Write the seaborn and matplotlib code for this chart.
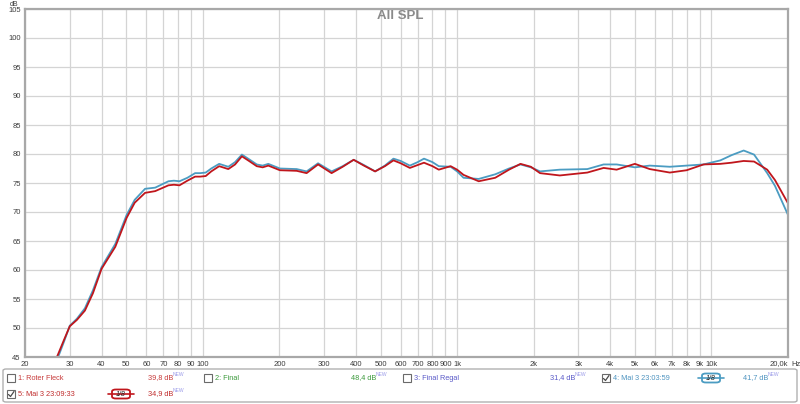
import numpy as np
import pandas as pd
import matplotlib
matplotlib.use("Agg")
import matplotlib.pyplot as plt
import seaborn as sns
from matplotlib.patches import Rectangle, FancyBboxPatch
from matplotlib.lines import Line2D

# frequencies (Hz) and SPL (dB)
freq = [25.5, 27, 28.5, 30, 32, 34.4, 37, 40, 45.3, 50.2, 54, 59.3, 65, 73.3, 77, 81, 87,
        93.3, 97.6, 102.7, 108, 116, 126, 134, 142.5, 152, 163, 172, 181, 201, 234, 256,
        284, 321, 355, 392, 430, 476, 520, 562, 600, 652, 700, 741, 800, 847, 943, 1000,
        1060, 1216, 1412, 1600, 1775, 1950, 2119, 2533, 3251, 3768, 4239, 5000, 5720,
        6860, 7988, 9311, 10840, 12000, 13390, 14710, 16570, 17780, 20000]
spl_mai4 = [42.6, 45.0, 47.7, 50.4, 51.6, 53.4, 56.5, 60.5, 64.5, 69.5, 72.1, 74.0, 74.2,
            75.3, 75.4, 75.3, 75.9, 76.7, 76.7, 76.8, 77.5, 78.3, 77.8, 78.6, 79.9, 79.1,
            78.2, 78.0, 78.3, 77.5, 77.4, 77.0, 78.4, 77.0, 77.9, 79.0, 78.1, 77.0, 78.0,
            79.2, 78.8, 78.0, 78.6, 79.2, 78.6, 77.9, 77.8, 77.0, 75.9, 75.7, 76.5, 77.5,
            78.2, 77.7, 77.0, 77.3, 77.4, 78.2, 78.2, 77.7, 78.0, 77.8, 78.0, 78.2, 78.9,
            79.8, 80.6, 79.9, 76.7, 74.5, 69.5]
spl_mai5 = [43.0, 45.5, 48.0, 50.3, 51.4, 53.0, 56.0, 60.2, 64.0, 69.0, 71.6, 73.3, 73.6,
            74.6, 74.7, 74.6, 75.4, 76.1, 76.1, 76.2, 77.0, 77.9, 77.4, 78.2, 79.6, 78.8,
            77.9, 77.7, 78.0, 77.2, 77.1, 76.7, 78.2, 76.7, 77.8, 79.0, 78.0, 77.0, 77.9,
            78.9, 78.4, 77.6, 78.1, 78.5, 77.9, 77.3, 77.9, 77.3, 76.4, 75.3, 75.9, 77.3,
            78.3, 77.8, 76.7, 76.3, 76.8, 77.6, 77.3, 78.3, 77.4, 76.8, 77.2, 78.2, 78.3,
            78.5, 78.8, 78.7, 77.3, 75.5, 71.5]

xtick_vals = [20, 30, 40, 50, 60, 70, 80, 90, 100, 200, 300, 400, 500, 600, 700, 800, 900,
              1000, 2000, 3000, 4000, 5000, 6000, 7000, 8000, 9000, 10000, 20000]
xtick_labels = ["20", "30", "40", "50", "60", "70", "80", "90", "100", "200", "300", "400",
                "500", "600", "700", "800", "900", "1k", "2k", "3k", "4k", "5k", "6k", "7k",
                "8k", "9k", "10k", ""]
ytick_vals = list(range(45, 106, 5))

df = pd.DataFrame({
    "freq": freq * 2,
    "spl": spl_mai4 + spl_mai5,
    "series": ["4: Mai 3 23:03:59"] * len(freq) + ["5: Mai 3 23:09:33"] * len(freq),
})

sns.set_style("white")
plt.rcParams["font.family"] = ["Liberation Sans", "DejaVu Sans"]

BLUE = "#4b9cc2"
RED = "#c0161c"
GRID = "#d4d4d4"
TXT = "#3c3c3c"

fig = plt.figure(figsize=(8, 4.04), dpi=100)
ax = fig.add_axes([25 / 800, 1 - 357 / 404, 763 / 800, 348 / 404])

sns.lineplot(data=df, x="freq", y="spl", hue="series",
             palette={"4: Mai 3 23:03:59": BLUE, "5: Mai 3 23:09:33": RED},
             linewidth=1.3, legend=False, ax=ax, sort=False)

ax.set_xscale("log")
ax.set_xlim(20, 20000)
ax.set_ylim(45, 105)
ax.set_xticks(xtick_vals)
ax.set_xticklabels(xtick_labels)
ax.xaxis.set_minor_locator(matplotlib.ticker.NullLocator())
ax.set_yticks(ytick_vals)
ax.tick_params(axis="both", length=0, labelsize=5.5, colors=TXT, pad=3)
ax.set_xlabel("")
ax.set_ylabel("")
ax.grid(True, color=GRID, linewidth=0.9)
ax.set_axisbelow(True)
for s in ax.spines.values():
    s.set_color("#a8a8a8")
    s.set_linewidth(1.6)

fig.text(400 / 800, 1 - 16 / 404, "All SPL", ha="center", va="center",
         fontsize=9.5, fontweight="bold", color="#8a8a8a")
fig.text(14 / 800, 1 - 4 / 404, "dB", fontsize=5, color=TXT, ha="center", va="center")
fig.text(788 / 800, 1 - 364 / 404, "20,0k", fontsize=5.5, color=TXT, ha="right", va="center")
fig.text(791 / 800, 1 - 364 / 404, "Hz", fontsize=5.5, color=TXT, ha="left", va="center")

# legend panel
def px(x, y):
    return x / 800, 1 - y / 404

panel = FancyBboxPatch(px(3, 402), 794 / 800, 33 / 404, transform=fig.transFigure,
                       boxstyle="round,pad=0,rounding_size=0.004", fc="white",
                       ec="#b0b0b0", lw=1)
fig.add_artist(panel)

entries = [
    (7, 378, False, "1: Roter Fleck", "#c83c3c", 148, "39,8 dB", None),
    (204, 378, False, "2: Final", "#3c9a3c", 351, "48,4 dB", None),
    (403, 378, False, "3: Final Regal", "#5a5ac8", 550, "31,4 dB", None),
    (602, 378, True, "4: Mai 3 23:03:59", "#4f94c0", 743, "41,7 dB", 711),
    (7, 394, True, "5: Mai 3 23:09:33", "#c02c2c", 148, "34,9 dB", 121),
]
for cx, cy, checked, label, col, vx, val, icon in entries:
    fig.add_artist(Rectangle(px(cx, cy + 4), 8 / 800, 8 / 404, transform=fig.transFigure,
                             fc="white", ec="#6a6a6a", lw=0.8))
    if checked:
        fig.add_artist(Line2D([(cx + 1.5) / 800, (cx + 3.5) / 800, (cx + 7) / 800],
                              [1 - (cy + 0.5) / 404, 1 - (cy + 2.5) / 404, 1 - (cy - 2.5) / 404],
                              transform=fig.transFigure, color="#4a4a4a", lw=0.9))
    fig.text((cx + 11) / 800, 1 - cy / 404, label, fontsize=5.3, color=col, va="center")
    fig.text(vx / 800, 1 - cy / 404, val, fontsize=5.3, color=col, va="center")
    fig.text((vx + 25) / 800, 1 - (cy - 3) / 404, "NEW", fontsize=3.6, color="#9a9ae8",
             va="center")
    if icon is not None:
        ic = RED if icon < 400 else BLUE
        fig.add_artist(Line2D([(icon - 13) / 800, (icon + 13) / 800], [1 - cy / 404] * 2,
                              transform=fig.transFigure, color=ic, lw=1.2))
        fig.add_artist(FancyBboxPatch(px(icon - 9, cy + 4.5), 18 / 800, 9 / 404,
                                      transform=fig.transFigure,
                                      boxstyle="round,pad=0,rounding_size=0.005",
                                      fc="white", ec=ic, lw=1.3))
        fig.text(icon / 800, 1 - cy / 404, "1/8", fontsize=5, color="#222222",
                 ha="center", va="center", style="italic")

fig.savefig("out.png", dpi=100)
